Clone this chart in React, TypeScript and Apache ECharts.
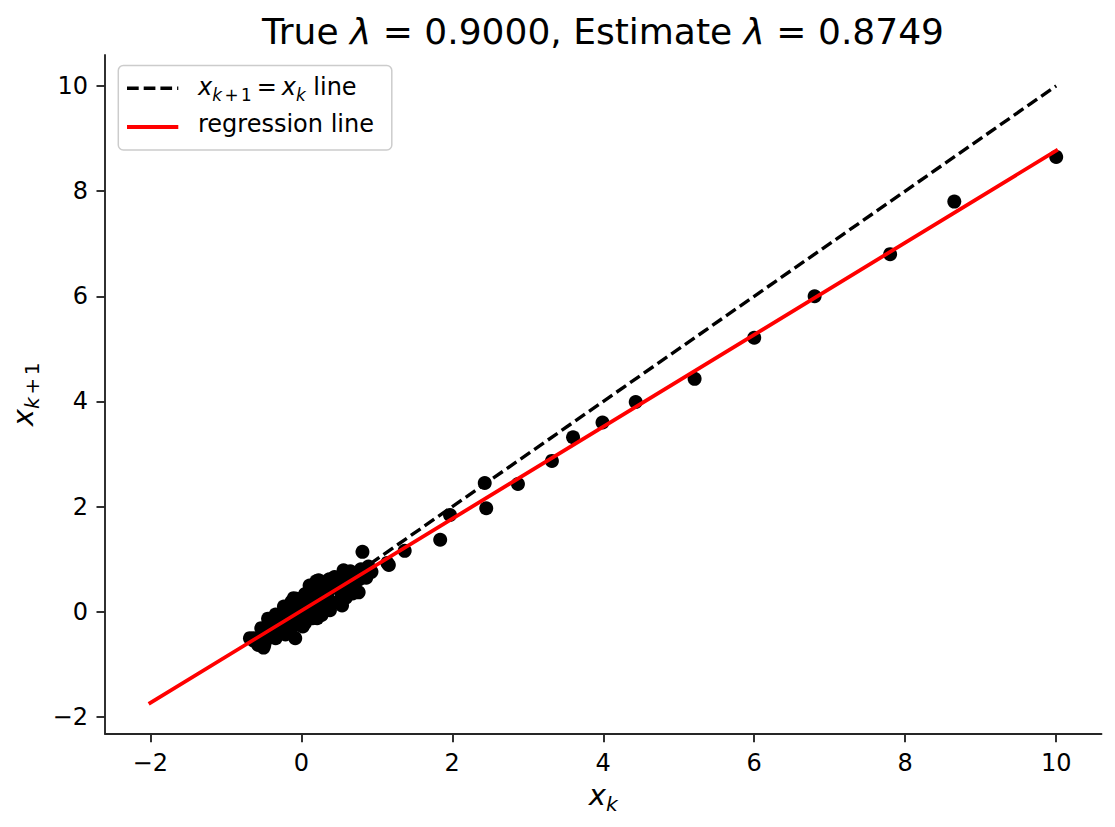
import React, { useEffect, useRef } from "react";
import * as echarts from "echarts";

// ---- data ----
const TRUE_LAMBDA = 0.9;
const EST_LAMBDA = 0.8749;
const EST_INTERCEPT = 0.02;
const LINE_X_RANGE = [-2, 10];
const IDENTITY_X_RANGE = [0, 10];
// AR(1) trajectory x_0, x_1, ... ; the scatter shows (x_k, x_{k+1})
const TRAJECTORY = [
  10, 8.65, 7.8, 6.8, 6.0, 5.21, 4.43, 3.99, 3.6, 3.32, 2.87, 2.43, 2.45, 1.97, 1.84, 1.37, 1.16, 0.89, 0.86,
  0.65, 0.77, 0.62, 0.59, 0.27, 0.34, 0.2, 0.38, 0.18, 0.21, -0.12, -0.01, -0.16, 0.11, 0.2, -0.03, -0.13,
  -0.31, -0.22, -0.34, -0.45, -0.44, -0.13, 0.19, 0.37, 0.62, 0.34, 0.3, 0.11, 0.5, 0.54, 0.12, 0.0, 0.05,
  -0.21, -0.08, -0.5, -0.34, -0.05, 0.11, -0.1, 0.26, 0.38, 0.43, 0.58, 0.66, 0.68, 0.35, 0.21, 0.38, 0.03,
  -0.07, -0.16, -0.34, -0.5, -0.49, -0.63, -0.55, -0.53, -0.31, -0.07, 0.14, 0.27, -0.06, 0.1, 0.34, 0.55,
  0.53, 0.36, 0.12, 0.05, 0.34, 0.25, 0.02, -0.28, -0.35, -0.21, -0.23, 0.1, 0.14, -0.03, 0.17, 0.3, 0.36,
  0.17, 0.15, -0.12, -0.21, -0.43, -0.48, -0.57, -0.63, -0.5, -0.68, -0.5, -0.34, -0.1, 0.06, 0.3, 0.56,
  0.79, 0.81, 1.14, 0.93, 0.76, 0.37, 0.22, 0.24, -0.04, 0.07, -0.14, -0.22, 0.01, 0.16, 0.24, 0.11, 0.3,
  0.46, 0.6, 0.73, 0.59, 0.42, 0.17, -0.05, -0.04, -0.24, -0.06, 0.25, 0.32, 0.23, 0.6, 0.44, 0.66, 0.5,
  0.2, 0.58, 0.3,
];
const X_TICKS = [-2, 0, 2, 4, 6, 8, 10];
const Y_TICKS = [-2, 0, 2, 4, 6, 8, 10];
const X_LIMITS = [-2.6, 10.6];
const Y_LIMITS = [-2.317, 10.587];

const FONT = "DejaVu Sans";
const fmt = (v: number) => (v < 0 ? "\u2212" + Math.abs(v) : String(v));

function mathRich(main: number) {
  const sub = main * 0.7;
  const L = main * 1.32;
  return {
    i: { fontFamily: FONT, fontStyle: "italic", fontSize: main, lineHeight: L, color: "#000" },
    s: { fontFamily: FONT, fontStyle: "italic", fontSize: sub, lineHeight: sub, verticalAlign: "bottom", color: "#000" },
    op: { fontFamily: FONT, fontSize: sub, lineHeight: sub, verticalAlign: "bottom", padding: [0, 2.5, 0, 2.5], color: "#000" },
    s1: { fontFamily: FONT, fontSize: sub, lineHeight: sub, verticalAlign: "bottom", color: "#000" },
    eq: { fontFamily: FONT, fontSize: main, lineHeight: L, padding: [0, 5, 0, 5], color: "#000" },
    n: { fontFamily: FONT, fontSize: main, lineHeight: L, color: "#000" },
  };
}

export default function App() {
  const ref = useRef<HTMLDivElement>(null);
  useEffect(() => {
    if (!ref.current) return;
    const chart = echarts.init(ref.current, undefined, { renderer: "svg" });

    const points: number[][] = [];
    for (let k = 0; k < TRAJECTORY.length - 1; k++) points.push([TRAJECTORY[k], TRAJECTORY[k + 1]]);
    const regression = LINE_X_RANGE.map((x) => [x, EST_LAMBDA * x + EST_INTERCEPT]);
    const identity = IDENTITY_X_RANGE.map((x) => [x, x]);

    const axisColor = "#262626";
    const common = (ticks: number[]) => ({
      type: "value",
      splitLine: { show: false },
      axisLine: { show: true, onZero: false, lineStyle: { color: axisColor, width: 1.9 } },
      axisTick: { show: true, inside: false, length: 8.5, customValues: ticks, lineStyle: { color: axisColor, width: 1.9 } },
      axisLabel: { customValues: ticks, formatter: fmt, fontSize: 24, color: "#000", fontFamily: FONT },
    });

    chart.setOption({
      animation: false,
      backgroundColor: "#fff",
      textStyle: { fontFamily: FONT },
      grid: { left: 105, top: 55, width: 996.5, height: 678.7, containLabel: false },
      xAxis: {
        ...common(X_TICKS),
        min: X_LIMITS[0],
        max: X_LIMITS[1],
        axisLabel: { ...common(X_TICKS).axisLabel, margin: 17 },
        name: "{i|x}{s|k}",
        nameLocation: "middle",
        nameGap: 42,
        nameTextStyle: { rich: mathRich(29) },
      },
      yAxis: {
        ...common(Y_TICKS),
        min: Y_LIMITS[0],
        max: Y_LIMITS[1],
        axisLabel: { ...common(Y_TICKS).axisLabel, margin: 17 },
        name: "{i|x}{s|k}{op|+}{s1|1}",
        nameLocation: "middle",
        nameRotate: 90,
        nameGap: 61,
        nameTextStyle: { rich: mathRich(29) },
      },
      graphic: [
        {
          type: "text",
          x: 603,
          y: 31.5,
          style: {
            text: "{n|True }{l|λ}{n| = " + TRUE_LAMBDA.toFixed(4) + ", Estimate }{l|λ}{n| = " + EST_LAMBDA.toFixed(4) + "}",
            align: "center",
            verticalAlign: "middle",
            rich: {
              n: { fontFamily: FONT, fontSize: 36, color: "#000" },
              l: { fontFamily: FONT, fontSize: 36, fontStyle: "italic", color: "#000" },
            },
          },
        },
        {
          type: "group",
          z: 100,
          children: [
            {
              type: "rect",
              shape: { x: 118.3, y: 65.5, width: 273.5, height: 84.5, r: 5 },
              style: { fill: "rgba(255,255,255,0.8)", stroke: "#cccccc", lineWidth: 1.5 },
            },
            {
              type: "line",
              shape: { x1: 127, y1: 88.3, x2: 178.3, y2: 88.3 },
              style: { stroke: "#000", lineWidth: 3.4, lineDash: [11.7, 5], lineCap: "butt" },
            },
            {
              type: "line",
              shape: { x1: 127, y1: 127, x2: 178.3, y2: 127 },
              style: { stroke: "#ff0000", lineWidth: 3.8, lineCap: "butt" },
            },
            {
              type: "text",
              x: 198,
              y: 87.4,
              style: {
                text: "{i|x}{s|k}{op|+}{s1|1}{eq|=}{i|x}{s|k}{n| line}",
                align: "left",
                verticalAlign: "middle",
                rich: mathRich(24),
              },
            },
            {
              type: "text",
              x: 198,
              y: 124.4,
              style: {
                text: "regression line",
                align: "left",
                verticalAlign: "middle",
                fontFamily: FONT,
                fontSize: 24,
                fill: "#000",
              },
            },
          ],
        },
      ],
      series: [
        {
          type: "scatter",
          data: points,
          symbolSize: 14,
          itemStyle: { color: "#000", opacity: 1 },
          z: 1,
        },
        {
          type: "line",
          data: identity,
          symbol: "none",
          lineStyle: { color: "#000", width: 3.4, type: [11.7, 5], cap: "butt" },
          z: 2,
        },
        {
          type: "line",
          data: regression,
          symbol: "none",
          lineStyle: { color: "#ff0000", width: 3.8, cap: "square" },
          z: 3,
        },
      ],
    });
    return () => chart.dispose();
  }, []);
  return (
    <div
      ref={ref}
      style={{ position: "fixed", left: 0, top: 0, width: 1115, height: 827, background: "#fff" }}
    />
  );
}
